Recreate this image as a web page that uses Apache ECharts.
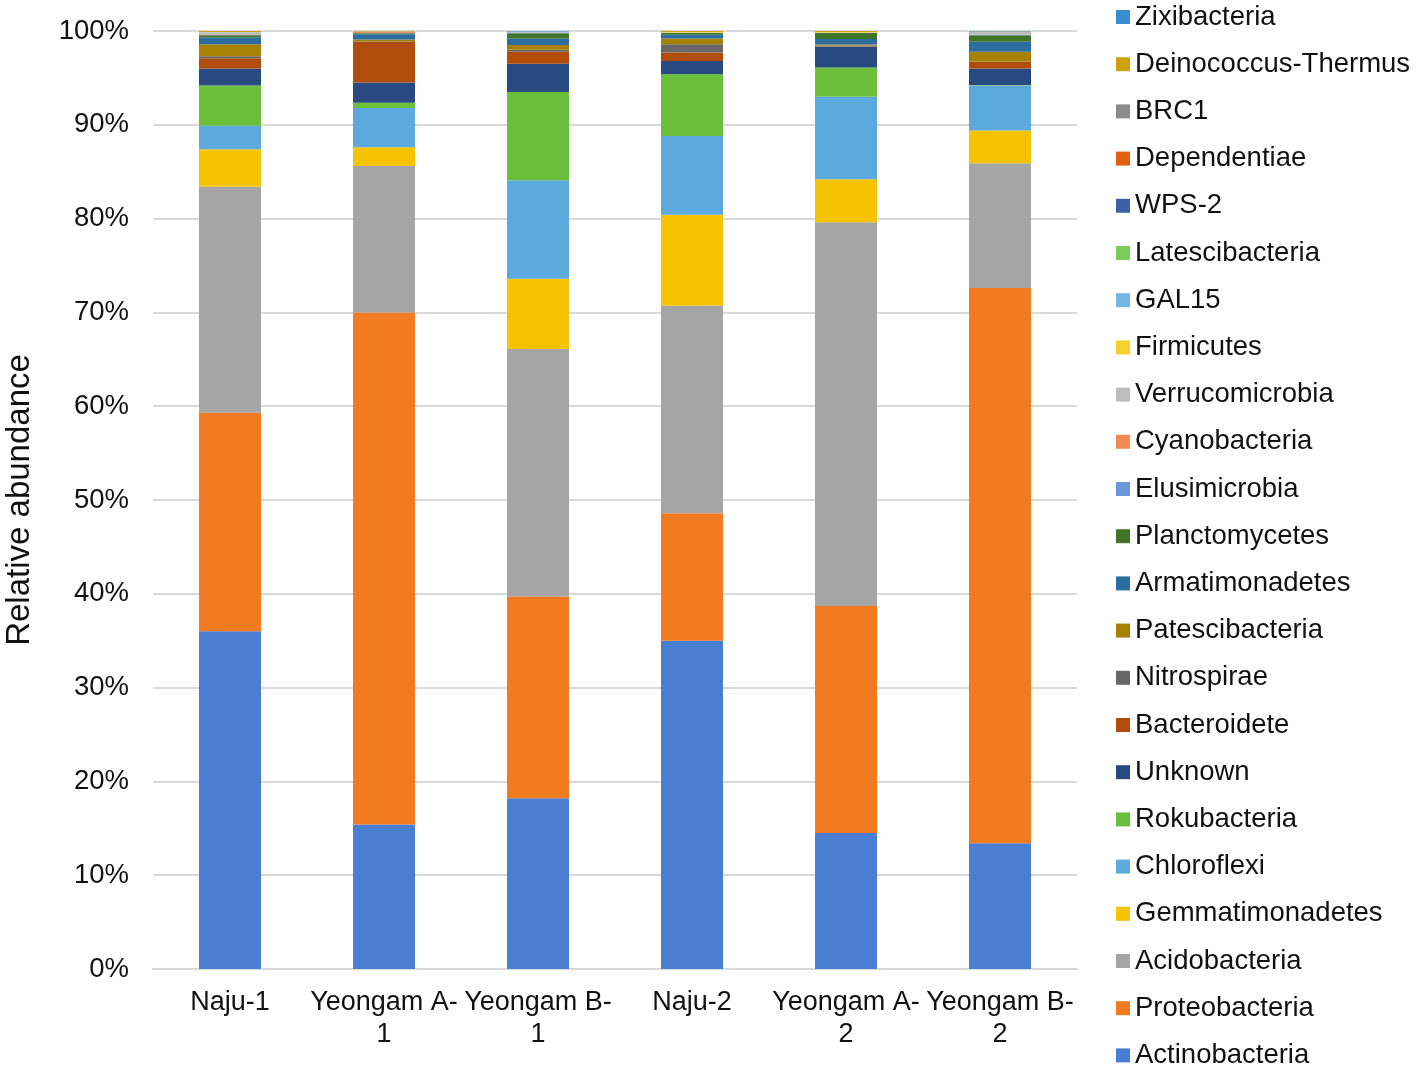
<!DOCTYPE html>
<html>
<head>
<meta charset="utf-8">
<script src="https://cdn.jsdelivr.net/npm/echarts@6/dist/echarts.min.js"></script>
<style>
  html, body { margin: 0; padding: 0; background: #fff; }
  #chart { width: 1417px; height: 1072px; }
</style>
</head>
<body>
<div id="chart"></div>
<script>
// sample sites
var sites = ["Naju-1", "Yeongam A-\n1", "Yeongam B-\n1", "Naju-2", "Yeongam A-\n2", "Yeongam B-\n2"];

// relative abundance (%) per phylum, bottom of the stack first
var actinobacteria   = [36.0, 15.4, 18.2, 35.0, 14.5, 13.4];
var proteobacteria   = [23.3, 54.6, 21.5, 13.6, 24.2, 59.2];
var acidobacteria    = [24.1, 15.6, 26.4, 22.1, 40.9, 13.3];
var gemmatimonadetes = [4.0, 2.0, 7.5, 9.7, 4.6, 3.5];
var chloroflexi      = [2.5, 4.2, 10.5, 8.4, 8.8, 4.8];
var rokubacteria     = [4.3, 0.55, 9.4, 6.6, 3.1, 0.05];
var unknown          = [1.8, 2.15, 3.0, 1.4, 2.2, 1.75];
var bacteroidete     = [1.1, 4.35, 1.3, 0.9, 0.05, 0.7];
var nitrospirae      = [0.2, 0.05, 0.2, 0.9, 0.1, 0.05];
var patescibacteria  = [1.3, 0.2, 0.5, 0.6, 0.1, 1.05];
var armatimonadetes  = [0.7, 0.55, 0.7, 0.4, 0.6, 1.05];
var planctomycetes   = [0.25, 0.1, 0.55, 0.2, 0.65, 0.7];
var elusimicrobia    = [0.05, 0.05, 0.1, 0, 0, 0.05];
var cyanobacteria    = [0.05, 0.1, 0, 0, 0, 0];
var verrucomicrobia  = [0.15, 0.05, 0.1, 0.05, 0.05, 0.3];
var firmicutes       = [0.05, 0, 0, 0.05, 0.05, 0.05];
var gal15            = [0.05, 0, 0, 0, 0, 0];
var latescibacteria  = [0, 0, 0, 0, 0, 0];
var wps2             = [0, 0, 0, 0, 0, 0];
var dependentiae     = [0, 0, 0, 0, 0, 0];
var brc1             = [0, 0, 0, 0, 0, 0];
var deinococcus      = [0.1, 0.05, 0, 0.1, 0.1, 0];
var zixibacteria     = [0, 0, 0.05, 0, 0, 0.05];

var phyla = [
  ["Actinobacteria", actinobacteria, "#4a7ed3"],
  ["Proteobacteria", proteobacteria, "#f27a21"],
  ["Acidobacteria", acidobacteria, "#a5a5a5"],
  ["Gemmatimonadetes", gemmatimonadetes, "#f5c300"],
  ["Chloroflexi", chloroflexi, "#5ba9dd"],
  ["Rokubacteria", rokubacteria, "#6cbf3b"],
  ["Unknown", unknown, "#284a80"],
  ["Bacteroidete", bacteroidete, "#b14c0b"],
  ["Nitrospirae", nitrospirae, "#686868"],
  ["Patescibacteria", patescibacteria, "#a78104"],
  ["Armatimonadetes", armatimonadetes, "#2b6da0"],
  ["Planctomycetes", planctomycetes, "#3f7429"],
  ["Elusimicrobia", elusimicrobia, "#6b97db"],
  ["Cyanobacteria", cyanobacteria, "#f08c52"],
  ["Verrucomicrobia", verrucomicrobia, "#bdbdbd"],
  ["Firmicutes", firmicutes, "#f4d12b"],
  ["GAL15", gal15, "#76b6e4"],
  ["Latescibacteria", latescibacteria, "#7bcc5b"],
  ["WPS-2", wps2, "#3b60a9"],
  ["Dependentiae", dependentiae, "#e2600d"],
  ["BRC1", brc1, "#8b8b8b"],
  ["Deinococcus-Thermus", deinococcus, "#cfa20b"],
  ["Zixibacteria", zixibacteria, "#3a8dd1"]
];

var chart = echarts.init(document.getElementById("chart"));

var series = phyla.map(function (p) {
  return {
    name: p[0],
    type: "bar",
    stack: "total",
    barWidth: 62,
    data: p[1],
    itemStyle: { color: p[2] }
  };
});

var font = "Liberation Sans, Arial, sans-serif";

chart.setOption({
  animation: false,
  textStyle: { fontFamily: font },
  grid: { left: 153, right: 340, top: 31, bottom: 103, outerBoundsMode: "none" },
  legend: {
    orient: "vertical",
    left: 1116,
    top: 3,
    height: 1069,
    padding: 0,
    itemWidth: 14,
    itemHeight: 14,
    itemGap: 19.2,
    icon: "rect",
    textStyle: { fontSize: 27.5, color: "#111", lineHeight: 28, fontFamily: font },
    data: phyla.map(function (p) { return p[0]; }).reverse()
  },
  xAxis: {
    type: "category",
    data: sites,
    axisTick: { show: false },
    axisLine: { lineStyle: { color: "#d9d9d9", width: 2 } },
    axisLabel: { fontSize: 27, color: "#111", lineHeight: 32, margin: 18, interval: 0 }
  },
  yAxis: {
    type: "value",
    min: 0,
    max: 100,
    interval: 10,
    name: "Relative abundance",
    nameLocation: "middle",
    nameGap: 117,
    nameTextStyle: { fontSize: 33, color: "#111" },
    axisLabel: { formatter: "{value}%", fontSize: 27.5, color: "#111", margin: 24 },
    splitLine: { lineStyle: { color: "#d9d9d9", width: 2 } }
  },
  series: series
});
</script>
</body>
</html>
